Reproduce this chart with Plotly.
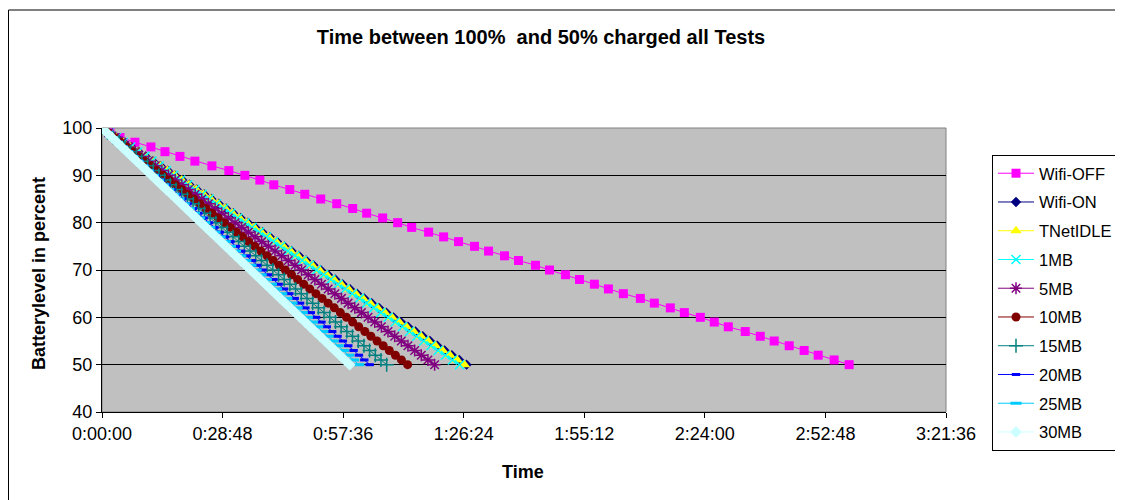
import plotly.graph_objects as go

battery_levels = [100, 99, 98, 97, 96, 95, 94, 93, 92, 91, 90, 89, 88, 87, 86, 85, 84,
                  83, 82, 81, 80, 79, 78, 77, 76, 75, 74, 73, 72, 71, 70, 69, 68, 67,
                  66, 65, 64, 63, 62, 61, 60, 59, 58, 57, 56, 55, 54, 53, 52, 51, 50]

# elapsed seconds at each battery level
wifi_off = [0, 115, 258, 472, 701, 902, 1117, 1331, 1575, 1818,
            2047, 2262, 2462, 2691, 2906, 3135, 3364, 3593, 3793, 4022,
            4237, 4438, 4681, 4896, 5110, 5339, 5540, 5769, 5969, 6213,
            6413, 6642, 6843, 7057, 7258, 7472, 7716, 7916, 8145, 8346,
            8575, 8775, 8976, 9219, 9434, 9634, 9849, 10063, 10264, 10493,
            10708]
wifi_on = [0, 101, 207, 311, 418, 520, 626, 729, 836, 940,
           1043, 1149, 1252, 1357, 1462, 1566, 1671, 1776, 1879, 1985,
           2089, 2194, 2297, 2403, 2507, 2611, 2716, 2821, 2924, 3030,
           3134, 3238, 3343, 3447, 3552, 3656, 3760, 3865, 3969, 4074,
           4178, 4283, 4386, 4492, 4596, 4700, 4805, 4910, 5014, 5120,
           5225]
tnet_idle = [0, 99, 206, 310, 415, 519, 622, 727, 831, 935,
             1039, 1143, 1247, 1351, 1455, 1559, 1662, 1767, 1870, 1974,
             2078, 2182, 2286, 2390, 2494, 2598, 2702, 2806, 2910, 3014,
             3118, 3221, 3325, 3429, 3533, 3637, 3741, 3845, 3949, 4053,
             4157, 4260, 4364, 4468, 4572, 4676, 4780, 4884, 4988, 5092,
             5196]
mb1 = [0, 100, 204, 306, 410, 512, 615, 717, 820, 922,
       1025, 1127, 1230, 1332, 1435, 1537, 1640, 1742, 1845, 1947,
       2050, 2152, 2255, 2357, 2460, 2562, 2665, 2767, 2870, 2972,
       3075, 3177, 3280, 3382, 3485, 3587, 3690, 3792, 3895, 3997,
       4100, 4202, 4305, 4407, 4510, 4612, 4715, 4817, 4920, 5022,
       5125]
mb5 = [0, 94, 190, 286, 381, 477, 572, 667, 763, 858,
       953, 1049, 1144, 1239, 1335, 1430, 1525, 1621, 1716, 1811,
       1907, 2002, 2097, 2193, 2288, 2383, 2479, 2574, 2669, 2765,
       2860, 2955, 3051, 3146, 3241, 3337, 3432, 3527, 3623, 3718,
       3813, 3909, 4004, 4099, 4195, 4290, 4385, 4481, 4576, 4671,
       4767]
mb10 = [0, 86, 175, 263, 350, 438, 526, 613, 701, 788,
        876, 964, 1051, 1139, 1226, 1314, 1402, 1489, 1577, 1664,
        1752, 1840, 1927, 2015, 2102, 2190, 2278, 2365, 2453, 2540,
        2628, 2716, 2803, 2891, 2978, 3066, 3154, 3241, 3329, 3416,
        3504, 3592, 3679, 3767, 3854, 3942, 4030, 4117, 4205, 4292,
        4380]
mb15 = [0, 80, 163, 245, 326, 408, 490, 571, 653, 734,
        816, 898, 979, 1061, 1142, 1224, 1306, 1387, 1469, 1550,
        1632, 1714, 1795, 1877, 1958, 2040, 2122, 2203, 2285, 2366,
        2448, 2530, 2611, 2693, 2774, 2856, 2938, 3019, 3101, 3182,
        3264, 3346, 3427, 3509, 3590, 3672, 3754, 3835, 3917, 3998,
        4080]
mb20 = [0, 76, 153, 230, 307, 384, 460, 537, 614, 690,
        767, 844, 921, 997, 1074, 1151, 1227, 1304, 1381, 1458,
        1534, 1611, 1688, 1764, 1841, 1918, 1995, 2071, 2148, 2225,
        2302, 2378, 2455, 2532, 2608, 2685, 2762, 2839, 2915, 2992,
        3069, 3145, 3222, 3299, 3376, 3452, 3529, 3606, 3682, 3759,
        3836]
mb25 = [0, 72, 147, 221, 294, 368, 442, 515, 589, 662,
        736, 809, 883, 957, 1030, 1104, 1177, 1251, 1325, 1398,
        1472, 1545, 1619, 1692, 1766, 1840, 1913, 1987, 2060, 2134,
        2207, 2281, 2355, 2428, 2502, 2575, 2649, 2723, 2796, 2870,
        2943, 3017, 3090, 3164, 3238, 3311, 3385, 3458, 3532, 3605,
        3679]
mb30 = [0, 70, 142, 213, 284, 355, 426, 497, 568, 639,
        710, 781, 852, 923, 994, 1065, 1136, 1207, 1278, 1349,
        1420, 1491, 1562, 1633, 1704, 1775, 1846, 1917, 1988, 2059,
        2130, 2201, 2272, 2343, 2414, 2485, 2556, 2627, 2698, 2769,
        2840, 2911, 2982, 3053, 3124, 3195, 3266, 3337, 3408, 3479,
        3550]

series_names = ["Wifi-OFF", "Wifi-ON", "TNetIDLE", "1MB", "5MB", "10MB",
                "15MB", "20MB", "25MB", "30MB"]
series_times = [wifi_off, wifi_on, tnet_idle, mb1, mb5, mb10, mb15, mb20, mb25, mb30]

x_tick_seconds = [0, 1728, 3456, 5184, 6912, 8640, 10368, 12096]
x_tick_labels = ["0:00:00", "0:28:48", "0:57:36", "1:26:24", "1:55:12",
                 "2:24:00", "2:52:48", "3:21:36"]

styles = [
    dict(color="#FF00FF", symbol="square", size=9, lw=0),
    dict(color="#000080", symbol="diamond", size=8, lw=0),
    dict(color="#FFFF00", symbol="triangle-up", size=10, lw=0),
    dict(color="#00FFFF", symbol="x-thin-open", size=9, lw=1.5),
    dict(color="#800080", symbol="asterisk-open", size=10, lw=1.5),
    dict(color="#800000", symbol="circle", size=9, lw=0),
    dict(color="#008080", symbol="cross-thin-open", size=10, lw=1.5),
    dict(color="#0000FF", symbol="line-ew-open", size=6, lw=3),
    dict(color="#00CCFF", symbol="line-ew-open", size=8, lw=3),
    dict(color="#CCFFFF", symbol="diamond", size=9, lw=0),
]

FONT = "Liberation Sans, Arial, sans-serif"

# page has an 8px body margin; figure coordinates = page - 8
W, H = 1115, 492
L, R, T, B = 94, 177, 120, 88
PW = W - L - R
PH = H - T - B

fig = go.Figure()
for name, times, st in zip(series_names, series_times, styles):
    fig.add_trace(go.Scatter(
        x=times, y=battery_levels, name=name, mode="lines+markers",
        legendgroup=name,
        line=dict(color=st["color"], width=1),
        marker=dict(color=st["color"], symbol=st["symbol"], size=st["size"],
                    line=dict(color=st["color"], width=st["lw"])),
    ))

fig.update_layout(
    width=W, height=H,
    margin=dict(l=L, r=R, t=T, b=B, autoexpand=False),
    paper_bgcolor="white", plot_bgcolor="#C0C0C0",
    font=dict(family=FONT, size=18, color="black"),
    title=dict(text="<b>Time between 100%&nbsp; and 50% charged all Tests</b>",
               x=533 / W, xref="container", xanchor="center",
               y=1 - 29 / H, yref="container", yanchor="middle",
               font=dict(family=FONT, size=20, color="black")),
    showlegend=True,
    legend=dict(x=(984 - L) / PW, xanchor="left", y=(H - B - 147) / PH, yanchor="top",
                bgcolor="white", bordercolor="black", borderwidth=1,
                font=dict(family=FONT, size=16.5, color="black"),
                tracegroupgap=4.3, itemwidth=36, maxheight=600),
    xaxis=dict(range=[0, 12096], tickvals=x_tick_seconds, ticktext=x_tick_labels,
               showgrid=False, zeroline=False, showline=True, linecolor="black",
               linewidth=1, ticks="outside", ticklen=5, tickcolor="black",
               tickfont=dict(family=FONT, size=18, color="black")),
    yaxis=dict(range=[40, 100], dtick=10, tick0=40,
               showgrid=True, gridcolor="black", gridwidth=1, zeroline=False,
               showline=True, linecolor="black", linewidth=1,
               ticks="outside", ticklen=5, tickcolor="black",
               tickfont=dict(family=FONT, size=18, color="black")),
    annotations=[
        dict(text="<b>Time</b>", xref="paper", yref="paper",
             x=(515 - L) / PW, y=(H - B - 464) / PH, showarrow=False,
             xanchor="center", yanchor="middle",
             font=dict(family=FONT, size=18, color="black")),
        dict(text="<b>Batterylevel in percent</b>", xref="paper", yref="paper",
             x=(31 - L) / PW, y=(H - B - 266) / PH, showarrow=False, textangle=-90,
             xanchor="center", yanchor="middle",
             font=dict(family=FONT, size=18, color="black")),
    ],
    shapes=[
        dict(type="rect", xref="paper", yref="paper",
             x0=0, x1=1, y0=0, y1=1, line=dict(color="#808080", width=1),
             fillcolor="rgba(0,0,0,0)", layer="below"),
        dict(type="rect", xref="paper", yref="paper",
             x0=(0.5 - L) / PW, x1=1.3, y0=-0.5, y1=(H - B - 2) / PH,
             line=dict(color="black", width=1), fillcolor="rgba(0,0,0,0)"),
    ],
)

fig.write_html("out.html")
